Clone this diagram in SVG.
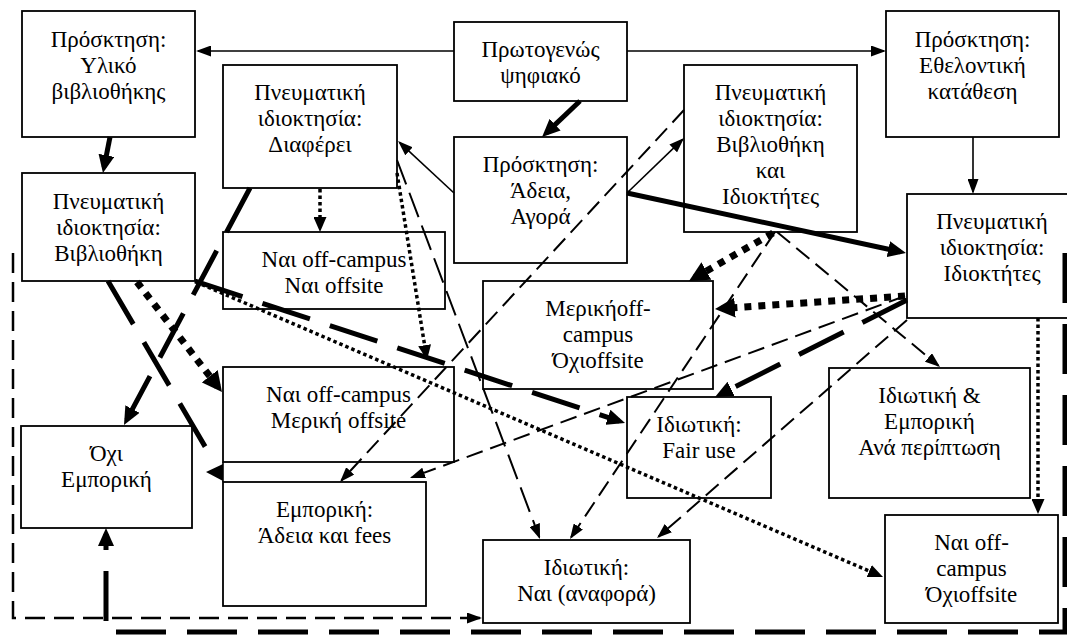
<svg xmlns="http://www.w3.org/2000/svg" width="1067" height="635" viewBox="0 0 1067 635">
<style>
.box{fill:#fff;stroke:#000;stroke-width:1.8}
.c{fill:none;stroke:#000}
.thin{stroke-width:1.6}
.thick{stroke-width:5}
.dash{stroke-width:2;stroke-dasharray:17 8}
.ldash{stroke-width:2;stroke-dasharray:26 9}
.tdash{stroke-width:5;stroke-dasharray:50 21}
.dot{stroke-width:3.5;stroke-dasharray:3.5 3}
.bdot{stroke-width:7;stroke-dasharray:7 7}
.frame{stroke-width:2.5;stroke-dasharray:20 9}
.head{fill:#000;stroke:none}
</style>
<defs>
<marker id="at" markerUnits="userSpaceOnUse" markerWidth="15" markerHeight="11" refX="13" refY="5.5" orient="auto"><path class="head" d="M0,0 L15,5.5 L0,11 z"/></marker>
<marker id="am" markerUnits="userSpaceOnUse" markerWidth="15" markerHeight="13" refX="10" refY="6.5" orient="auto"><path class="head" d="M0,0 L15,6.5 L0,13 z"/></marker>
<marker id="ak" markerUnits="userSpaceOnUse" markerWidth="18" markerHeight="16" refX="12" refY="8" orient="auto"><path class="head" d="M0,0 L18,8 L0,16 z"/></marker>
<marker id="ab" markerUnits="userSpaceOnUse" markerWidth="20" markerHeight="20" refX="13" refY="10" orient="auto"><path class="head" d="M0,0 L20,10 L0,20 z"/></marker>
</defs>

<g font-family="Liberation Serif, Times New Roman, serif" font-size="23" text-anchor="middle" fill="#000">
<g id="n1"><rect class="box" x="22" y="11" width="173" height="126"/><text x="108.5" y="47">Πρόσκτηση:</text><text x="108.5" y="73">Υλικό</text><text x="108.5" y="99">βιβλιοθήκης</text></g>
<g id="n2"><rect class="box" x="22" y="173" width="173" height="108"/><text x="108.5" y="209">Πνευματική</text><text x="108.5" y="235">ιδιοκτησία:</text><text x="108.5" y="261">Βιβλιοθήκη</text></g>
<g id="n3"><rect class="box" x="223" y="65" width="174" height="123"/><text x="310" y="100">Πνευματική</text><text x="310" y="126">ιδιοκτησία:</text><text x="310" y="152">Διαφέρει</text></g>
<g id="n4"><rect class="box" x="454" y="22" width="173" height="79"/><text x="540.5" y="57">Πρωτογενώς</text><text x="540.5" y="83">ψηφιακό</text></g>
<g id="n5"><rect class="box" x="454" y="137" width="173" height="126"/><text x="540.5" y="172">Πρόσκτηση:</text><text x="540.5" y="198">Άδεια,</text><text x="540.5" y="224">Αγορά</text></g>
<g id="n6"><rect class="box" x="684" y="65" width="173" height="167"/><text x="770.5" y="100">Πνευματική</text><text x="770.5" y="126">ιδιοκτησία:</text><text x="770.5" y="152">Βιβλιοθήκη</text><text x="770.5" y="178">και</text><text x="770.5" y="204">Ιδιοκτήτες</text></g>
<g id="n7"><rect class="box" x="886" y="11" width="173" height="126"/><text x="972.5" y="47">Πρόσκτηση:</text><text x="972.5" y="73">Εθελοντική</text><text x="972.5" y="99">κατάθεση</text></g>
<g id="n8"><rect class="box" x="907" y="194" width="173" height="124"/><text x="992" y="229">Πνευματική</text><text x="992" y="255">ιδιοκτησία:</text><text x="992" y="281">Ιδιοκτήτες</text></g>
<g id="n9"><rect class="box" x="223" y="232" width="222" height="77"/><text x="334" y="267">Ναι off-campus</text><text x="334" y="293">Ναι offsite</text></g>
<g id="n10"><rect class="box" x="483" y="281" width="230" height="108"/><text x="598" y="316">Μερικήoff-</text><text x="598" y="342">campus</text><text x="598" y="368">Όχιoffsite</text></g>
<g id="n11"><rect class="box" x="223" y="367" width="231" height="95"/><text x="338.5" y="402">Ναι off-campus</text><text x="338.5" y="428">Μερική offsite</text></g>
<g id="n12"><rect class="box" x="21" y="426" width="171" height="102"/><text x="106.5" y="461">Όχι</text><text x="106.5" y="487">Εμπορική</text></g>
<g id="n13"><rect class="box" x="223" y="482" width="203" height="124"/><text x="324.5" y="517">Εμπορική:</text><text x="324.5" y="543">Άδεια και fees</text></g>
<g id="n14"><rect class="box" x="627" y="397" width="144" height="101"/><text x="699" y="432">Ιδιωτική:</text><text x="699" y="458">Fair use</text></g>
<g id="n15"><rect class="box" x="829" y="368" width="201" height="130"/><text x="929.5" y="403">Ιδιωτική &amp;</text><text x="929.5" y="429">Εμπορική</text><text x="929.5" y="455">Ανά περίπτωση</text></g>
<g id="n16"><rect class="box" x="483" y="540" width="207" height="83"/><text x="586.5" y="575">Ιδιωτική:</text><text x="586.5" y="601">Ναι (αναφορά)</text></g>
<g id="n17"><rect class="box" x="885" y="515" width="173" height="108"/><text x="971.5" y="550">Ναι off-</text><text x="971.5" y="576">campus</text><text x="971.5" y="602">Όχιoffsite</text></g>
</g>

<g id="connectors">
<line class="c thin" x1="454" y1="51" x2="198" y2="51" marker-end="url(#at)"/>
<line class="c thin" x1="627" y1="51" x2="884" y2="51" marker-end="url(#at)"/>
<line class="c thick" x1="110" y1="137" x2="104.1" y2="167.1" marker-end="url(#ak)"/>
<line class="c thick" x1="580" y1="101" x2="546.4" y2="132.9" marker-end="url(#ak)"/>
<line class="c thin" x1="454" y1="193" x2="399.5" y2="142.4" marker-end="url(#at)"/>
<line class="c thin" x1="627" y1="193" x2="682.6" y2="139.4" marker-end="url(#at)"/>
<line class="c thick" x1="627" y1="193" x2="900.1" y2="251.7" marker-end="url(#ak)"/>
<line class="c thin" x1="973" y1="137" x2="973" y2="192" marker-end="url(#at)"/>
<line class="c dot" x1="320" y1="189" x2="320" y2="227" marker-end="url(#am)"/>
<line class="c tdash" x1="250" y1="188" x2="126.8" y2="419.7" marker-end="url(#ak)"/>
<line class="c bdot" x1="137" y1="282" x2="217.7" y2="386.5" marker-end="url(#ab)"/>
<line class="c tdash" x1="108" y1="281" x2="210" y2="455"/>
<line class="c tdash" x1="195" y1="281" x2="619.3" y2="421.1" marker-end="url(#ak)"/>
<line class="c dot" x1="196" y1="282" x2="878.4" y2="575" marker-end="url(#am)"/>
<line class="c dot" x1="397" y1="173" x2="426.2" y2="355.1" marker-end="url(#am)"/>
<line class="c ldash" x1="397" y1="160" x2="539.3" y2="537.1" marker-end="url(#at)"/>
<line class="c dash" x1="684" y1="110" x2="341.4" y2="480.5" marker-end="url(#at)"/>
<line class="c dash" x1="905" y1="296" x2="411.9" y2="477.3" marker-end="url(#at)"/>
<line class="c bdot" x1="905" y1="296" x2="722" y2="308.5" marker-end="url(#ab)"/>
<line class="c tdash" x1="907" y1="300" x2="720.4" y2="394.3" marker-end="url(#ak)"/>
<line class="c dash" x1="775" y1="232" x2="571.1" y2="537.3" marker-end="url(#at)"/>
<line class="c dash" x1="907" y1="320" x2="658.5" y2="536.7" marker-end="url(#at)"/>
<line class="c bdot" x1="773" y1="233" x2="695.1" y2="277.5" marker-end="url(#ab)"/>
<line class="c dash" x1="777" y1="232" x2="938.5" y2="365.7" marker-end="url(#at)"/>
<line class="c dot" x1="1038" y1="318" x2="1038" y2="509" marker-end="url(#am)"/>
<polyline class="c frame" points="13,253 13,618 480,618" marker-end="url(#at)"/>
<polyline class="c tdash" points="1065,253 1065,632 106,632 106,534" marker-end="url(#ak)"/>
<line class="c thin" x1="223" y1="462" x2="223" y2="482"/>
<polygon class="head" points="206,472 223,464 223,481"/>
</g>
</svg>
